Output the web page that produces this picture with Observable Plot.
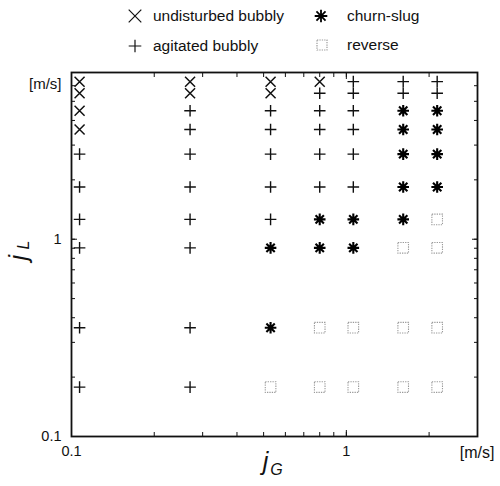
<!DOCTYPE html>
<html>
<head>
<meta charset="utf-8">
<script src="https://cdn.jsdelivr.net/npm/d3@7"></script>
<script src="https://cdn.jsdelivr.net/npm/@observablehq/plot@0.6"></script>
<style>
  body { margin: 0; background: #fff; font-family: "Liberation Sans", Arial, sans-serif; }
  #legend { position: relative; width: 500px; height: 58px; }
  #legend .sym { position: absolute; }
  #legend .lab { position: absolute; font-size: 15.5px; line-height: 1; transform: translateY(-50%); white-space: nowrap; color: #111; }
  #chart svg { display: block; }
</style>
</head>
<body>
<div id="legend"></div>
<div id="chart"></div>
<script>
// ---- data ----
// gas superficial velocity columns jG [m/s]
const jG = [0.107, 0.27, 0.53, 0.80, 1.06, 1.61, 2.14];
// liquid superficial velocity rows jL [m/s], top to bottom
const jL = [6.29, 5.49, 4.48, 3.60, 2.70, 1.84, 1.26, 0.904, 0.356, 0.178];
// regime per column (one letter per jL row, top to bottom)
// U = undisturbed bubbly, A = agitated bubbly, C = churn-slug, R = reverse
const regimeCols = [
  "UUUUAAAAAA",
  "UUAAAAAAAA",
  "UUAAAAACCR",
  "UAAAAACCRR",
  "AAAAAACCRR",
  "AACCCCCRRR",
  "AACCCCRRRR"
];
const regimeKeys = ["U", "A", "C", "R"];
const regimeLabels = ["undisturbed bubbly", "agitated bubbly", "churn-slug", "reverse"];
const xLabelTicks = [0.1, 1];
const yLabelTicks = [0.1, 1];
const unitLabel = "[m/s]";

// ---- build table ----
const points = [];
regimeCols.forEach((col, i) => {
  [...col].forEach((code, j) => points.push({jG: jG[i], jL: jL[j], regime: code}));
});

// ---- custom marker symbols ----
const rad = size => Math.sqrt(size / Math.PI);
const symbols = {
  U: { draw(ctx, size) { const r = rad(size); ctx.moveTo(-r, -r); ctx.lineTo(r, r); ctx.moveTo(-r, r); ctx.lineTo(r, -r); } },
  A: { draw(ctx, size) { const r = rad(size); ctx.moveTo(-r, 0); ctx.lineTo(r, 0); ctx.moveTo(0, -r); ctx.lineTo(0, r); } },
  C: { draw(ctx, size) { const r = rad(size), d = r * 0.72;
       ctx.moveTo(-r, 0); ctx.lineTo(r, 0); ctx.moveTo(0, -r); ctx.lineTo(0, r);
       ctx.moveTo(-d, -d); ctx.lineTo(d, d); ctx.moveTo(-d, d); ctx.lineTo(d, -d); } },
  R: { draw(ctx, size) { const r = rad(size); ctx.rect(-r, -r, 2 * r, 2 * r); } }
};
const styles = {
  U: { r: 5, stroke: "#111", strokeWidth: 1.5 },
  A: { r: 5.8, stroke: "#111", strokeWidth: 1.4 },
  C: { r: 5.8, stroke: "#000", strokeWidth: 2.1 },
  R: { r: 5.3, stroke: "#9a9a9a", strokeWidth: 1.1, strokeDasharray: "1.3,1.1" }
};

// ---- legend ----
const legendPos = { U: [135, 16], A: [135, 46], C: [321, 16], R: [322, 45] };
const legendTextX = { U: 153, A: 153, C: 347, R: 347 };
const legend = d3.select("#legend");
regimeKeys.forEach((k, i) => {
  const [cx, cy] = legendPos[k];
  const st = styles[k];
  const rr = k === "R" ? 5 : 6.3;
  const svg = legend.append("svg").attr("class", "sym")
    .attr("width", 20).attr("height", 20)
    .style("left", (cx - 10) + "px").style("top", (cy - 10) + "px");
  svg.append("path")
    .attr("transform", "translate(10,10)")
    .attr("d", d3.symbol(symbols[k], Math.PI * rr * rr)())
    .attr("fill", "none").attr("stroke", st.stroke)
    .attr("stroke-width", k === "C" ? 1.8 : 1.2)
    .attr("stroke-dasharray", st.strokeDasharray || null);
  legend.append("div").attr("class", "lab")
    .style("left", legendTextX[k] + "px").style("top", cy + "px")
    .text(regimeLabels[i]);
});

// ---- chart ----
const dotMarks = regimeKeys.map(k => Plot.dot(points.filter(d => d.regime === k), {
  x: "jG", y: "jL", symbol: symbols[k], fill: "none", ...styles[k]
}));

const chart = Plot.plot({
  width: 500,
  height: 428,
  marginTop: 14,
  marginBottom: 50,
  marginLeft: 71,
  marginRight: 23,
  style: { fontFamily: "'Liberation Sans', Arial, sans-serif", fontSize: "14px", background: "#fff", color: "#111" },
  x: { type: "log", domain: [0.1, 3] },
  y: { type: "log", domain: [0.1, 7] },
  marks: [
    // inward minor/major ticks on all four sides
    Plot.axisX({ anchor: "bottom", tickSize: -4, tickFormat: () => "", label: null }),
    Plot.axisX({ anchor: "top", tickSize: -4, tickFormat: () => "", label: null }),
    Plot.axisY({ anchor: "left", tickSize: -4, tickFormat: () => "", label: null }),
    Plot.axisY({ anchor: "right", tickSize: -4, tickFormat: () => "", label: null }),
    Plot.axisX({ anchor: "bottom", ticks: xLabelTicks, tickSize: -6, tickPadding: 15, tickFormat: d => String(d), label: null, fontSize: 14.5 }),
    Plot.axisY({ anchor: "left", ticks: yLabelTicks, tickSize: -6, tickPadding: 16, tickFormat: d => String(d), label: null, fontSize: 14.5 }),
    Plot.axisX({ anchor: "top", ticks: xLabelTicks, tickSize: -6, tickFormat: () => "", label: null }),
    Plot.axisY({ anchor: "right", ticks: yLabelTicks, tickSize: -6, tickFormat: () => "", label: null }),
    Plot.frame({ stroke: "#111", strokeWidth: 1.8 }),
    ...dotMarks,
    // unit labels
    Plot.text([unitLabel], { frameAnchor: "top-left", dx: -10, dy: 6, textAnchor: "end", fontSize: 15 }),
    Plot.text([unitLabel], { frameAnchor: "bottom-right", dx: 17, dy: 16, textAnchor: "end", fontSize: 16, lineAnchor: "middle" }),
    // axis titles j_G and j_L
    Plot.text(["j"], { frameAnchor: "bottom", dx: -9, dy: 33, fontSize: 25, fontStyle: "italic" }),
    Plot.text(["G"], { frameAnchor: "bottom", dx: 2, dy: 38, fontSize: 16, fontStyle: "italic" }),
    Plot.text(["j"], { frameAnchor: "left", dx: -53, dy: 6, fontSize: 25, fontStyle: "italic", rotate: -90 }),
    Plot.text(["L"], { frameAnchor: "left", dx: -48, dy: -5, fontSize: 16, fontStyle: "italic", rotate: -90 })
  ]
});
document.getElementById("chart").appendChild(chart);
</script>
</body>
</html>
